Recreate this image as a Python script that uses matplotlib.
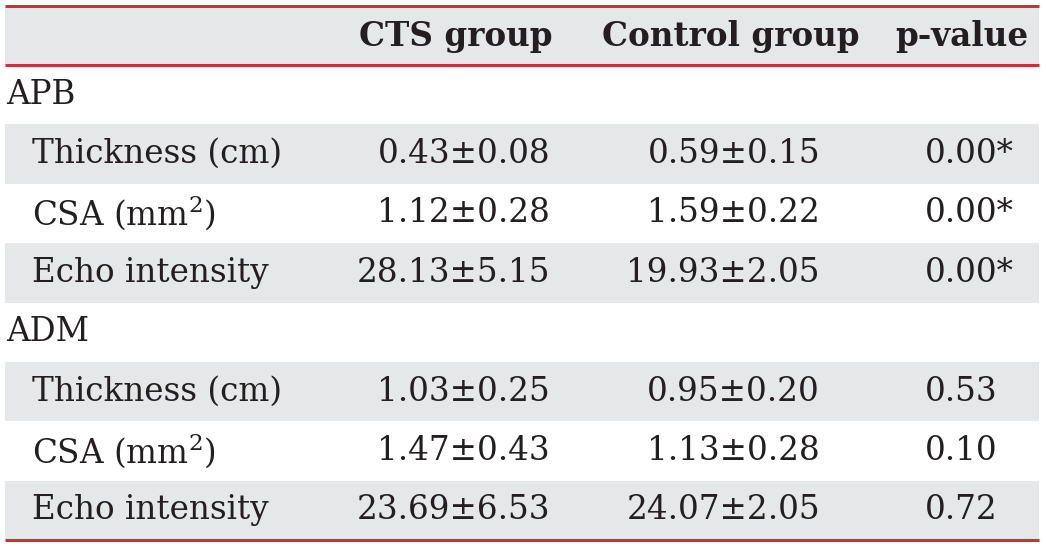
import matplotlib.pyplot as plt
from matplotlib.patches import Rectangle

plt.rcParams['font.family'] = ['DejaVu Serif']
plt.rcParams['mathtext.fontset'] = 'custom'
plt.rcParams['mathtext.rm'] = 'DejaVu Serif'

# table data
headers = ["CTS group", "Control group", "p-value"]
groups = ["APB", "ADM"]
items = ["Thickness (cm)", "CSA (mm$^{\\mathrm{2}}$)", "Echo intensity"]
cts = ["0.43±0.08", "1.12±0.28", "28.13±5.15", "1.03±0.25", "1.47±0.43", "23.69±6.53"]
control = ["0.59±0.15", "1.59±0.22", "19.93±2.05", "0.95±0.20", "1.13±0.28", "24.07±2.05"]
pvals = ["0.00*", "0.00*", "0.00*", "0.53", "0.10", "0.72"]

RED = "#c9323d"
GRAY = "#e6e7e8"
INK = "#231f20"
FS = 23.5

fig = plt.figure(figsize=(10.46, 5.46), dpi=100)
ax = fig.add_axes([0, 0, 1, 1])
ax.set_xlim(0, 1046)
ax.set_ylim(546, 0)
ax.axis("off")

left, right = 5, 1039
header_top, header_bot = 6, 65
row_h = (540 - 65) / 8

# header band
ax.add_patch(Rectangle((left, header_top), right - left, header_bot - header_top, color=GRAY, lw=0))
hx = [456, 731, 962]
for x, h in zip(hx, headers):
    ax.text(x, (header_top + header_bot) / 2 + 1, h, ha="center", va="center",
            fontsize=FS, fontweight="bold", color=INK)

# body rows
y = header_bot
k = 0
for g in groups:
    ax.text(6, y + row_h / 2, g, ha="left", va="center", fontsize=FS, color=INK)
    y += row_h
    for j, it in enumerate(items):
        if j != 1:
            ax.add_patch(Rectangle((left, y), right - left, row_h, color=GRAY, lw=0))
        yc = y + row_h / 2
        ax.text(32, yc, it, ha="left", va="center", fontsize=FS, color=INK)
        ax.text(550, yc, cts[k], ha="right", va="center", fontsize=FS, color=INK)
        ax.text(820, yc, control[k], ha="right", va="center", fontsize=FS, color=INK)
        ax.text(925, yc, pvals[k], ha="left", va="center", fontsize=FS, color=INK)
        y += row_h
        k += 1

# red rules
for yy in [6, 65, 540]:
    ax.plot([left, right], [yy, yy], color=RED, lw=2.2, solid_capstyle="butt")

fig.savefig("out.png", dpi=100)
